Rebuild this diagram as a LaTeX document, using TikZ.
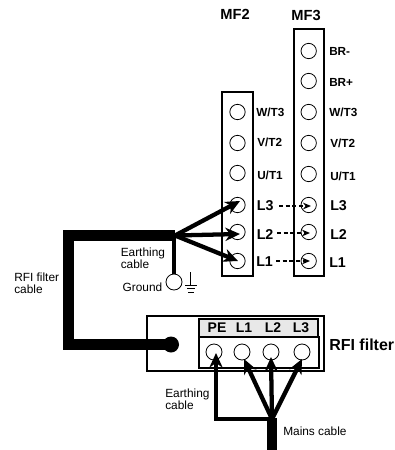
\documentclass[tikz,border=0pt]{standalone}
\usepackage{fontspec}
\setmainfont{Liberation Sans}
\usetikzlibrary{arrows.meta}
\tikzset{
  term/.style={draw,circle,line width=0.6pt,minimum size=11.5pt,inner sep=0pt},
  box/.style={line width=1.3pt},
  pin/.style={font=\bfseries\fontsize{8.8}{10}\selectfont,anchor=west,inner sep=0pt},
  line/.style={font=\bfseries\fontsize{10.7}{12}\selectfont,anchor=west,inner sep=0pt},
  note/.style={font=\fontsize{8.9}{9}\selectfont,align=left,anchor=west,inner sep=0pt},
  wire/.style={line width=3.2pt,-{Stealth[length=11pt,width=10pt]}},
  fat/.style={line width=8pt,line cap=butt,line join=miter},
  link/.style={densely dashed,line width=1pt,-{Stealth[length=6pt,width=5pt]}},
}
\begin{document}
\begin{tikzpicture}[x=0.75pt,y=-0.75pt]
  \useasboundingbox (0,0) rectangle (395,450);
  \draw[box] (222,92) rectangle (253,276); %MF2
  \draw[box] (294,29) rectangle (324,276); %MF3
  \node[font=\bfseries\fontsize{11}{12}\selectfont,inner sep=0pt] (mftwo) at (235,14) {MF2};
  \node[font=\bfseries\fontsize{11}{12}\selectfont,inner sep=0pt] (mfthree) at (306,15) {MF3};
  \foreach \n/\y in {wt/112,vt/143,ut/173,lc/205,lb/232,la/261} \node[term] (a\n) at (237.5,\y) {};
  \foreach \n/\y in {brm/51,brp/81,wt/112,vt/143,ut/174,lc/205,lb/232,la/261} \node[term] (b\n) at (308.7,\y) {};
  \foreach \n/\x/\y/\t in {a/256/112/W\slash T3,b/257/142/V\slash T2,c/257/175/U\slash T1,d/329/51/BR-,e/329/82/BR+,f/329/112/W\slash T3,g/330/143/V\slash T2,h/330/176/U\slash T1}
    \node[pin] (p\n) at (\x,\y) {\t};
  \node[line] (nc) at (256.7,206) {L3};
  \node[line] (nb) at (256.5,235) {L2};
  \node[line] (na) at (256,262) {L1};
  \node[line] (mc) at (330,206) {L3};
  \node[line] (mb) at (330,235) {L2};
  \node[line] (ma) at (329,263) {L1};
  \coordinate (Sc) at (279,206);
  \coordinate (Sb) at (277,233);
  \coordinate (Sa) at (276,261);
  \draw[link] (Sc) -- (311,206);
  \draw[link] (Sb) -- (310,233);
  \draw[link] (Sa) -- (310,261);
  \coordinate (J) at (175,235.5);
  \coordinate (C) at (68.5,235.5);
  \coordinate (D) at (68.5,344.5);
  \coordinate (E) at (171,344.5);
  \draw[fat] (J)--(C)--(D)--(E);
  \fill[black] (E) circle (8);
  \coordinate (Tc) at (240,201);
  \coordinate (Tb) at (240,234);
  \coordinate (Ta) at (238,261);
  \foreach \P in {Tc,Tb,Ta} \draw[wire] (J)--(\P);
  \node[term,minimum size=12pt] (gnd) at (174,282) {};
  \draw[line width=3pt] (174,235)--(gnd);
  \draw[line width=.7pt] (190.7,272)--(190.7,285) (185,285)--(197,285) (187,288.5)--(194.5,288.5) (188,292)--(193.5,292); %ground
  \node[note] (earth) at (120.5,258) {Earthing\\cable};
  \node[note,anchor=east] (ground) at (162.5,287) {Ground};
  \node[note] (rfi) at (14,283) {RFI filter\\cable};
  \draw[box] (147,316) rectangle (324,371); %filter
  \draw[box,fill=black!9] (199,319) rectangle (318,337);
  \draw[box] (199,337) rectangle (319,368);
  \foreach \n/\x in {pe/214,f/242,g/271,h/302} \node[term,minimum size=12pt] (r\n) at (\x,352) {};
  \foreach \n/\x/\t in {pe/217/PE,f/244/L1,g/273/L2,h/301/L3} \node[font=\bfseries\fontsize{10.5}{12}\selectfont,inner sep=0pt] (s\n) at (\x,328) {\t};
  \node[font=\bfseries\fontsize{12}{14}\selectfont,anchor=west,inner sep=0pt] (filter) at (329,345) {RFI filter};
  \coordinate (M) at (272,419);
  \coordinate (N) at (272,450);
  \coordinate (K) at (216,419);
  \draw[line width=7.5pt] (272,418)--(N);
  \draw[wire] (M)--(244,359);
  \draw[wire] (M)--(271,357);
  \draw[wire] (M)--(302,359);
  \draw[wire,line join=miter] (M)--(K)--(216,353);
  \node[note] (earthb) at (165,399) {Earthing\\cable};
  \node[note] (mains) at (283,431) {Mains cable};
\end{tikzpicture}
\end{document}
